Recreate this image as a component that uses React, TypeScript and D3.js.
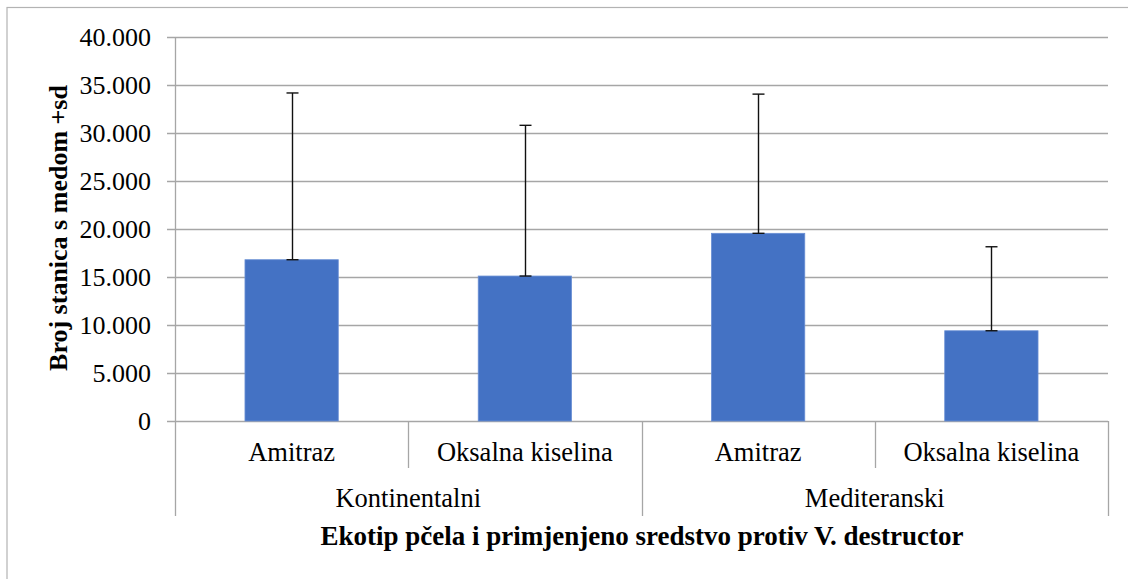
import React, { useEffect, useRef } from "react";
import * as d3 from "d3";

const groups = ["Kontinentalni", "Mediteranski"];
const treatments = ["Amitraz", "Oksalna kiselina"];
const means = [16800, 15100, 19550, 9400];
const sds = [17370, 15700, 14500, 8750];
const yTicks = [0, 5000, 10000, 15000, 20000, 25000, 30000, 35000, 40000];

const W = 1128;
const H = 579;
const FONT = "Liberation Serif, DejaVu Serif, serif";

const App: React.FC = () => {
  const ref = useRef<SVGSVGElement | null>(null);

  useEffect(() => {
    if (!ref.current) return;
    const svg = d3.select(ref.current);
    svg.selectAll("*").remove();

    const left = 175;
    const right = 1108;
    const top = 37;
    const bottom = 421;

    // outer frame
    svg
      .append("rect")
      .attr("x", 7)
      .attr("y", 7.5)
      .attr("width", W)
      .attr("height", H)
      .attr("fill", "white")
      .attr("stroke", "#b3b3b3")
      .attr("stroke-width", 1.2);

    const keys = groups.flatMap((g) => treatments.map((t) => `${g}|${t}`));
    const x = d3.scaleBand<string>().domain(keys).range([left, right]).padding(0);
    const xg = d3.scaleBand<string>().domain(groups).range([left, right]).padding(0);
    const y = d3.scaleLinear().domain([0, 40000]).range([bottom, top]);
    const fmt = (v: number) => (v === 0 ? "0" : d3.format(".3f")(v / 1000));

    // gridlines + ticks
    svg
      .append("g")
      .selectAll("line")
      .data(yTicks)
      .enter()
      .append("line")
      .attr("x1", left - 8)
      .attr("x2", right)
      .attr("y1", (d) => Math.round(y(d)) + 0.5)
      .attr("y2", (d) => Math.round(y(d)) + 0.5)
      .attr("stroke", "#a6a6a6")
      .attr("stroke-width", 1.3);

    svg
      .append("g")
      .selectAll("text")
      .data(yTicks)
      .enter()
      .append("text")
      .attr("x", 151)
      .attr("y", (d) => y(d))
      .attr("dy", "0.33em")
      .attr("text-anchor", "end")
      .attr("font-family", FONT)
      .attr("font-size", 26)
      .text((d) => fmt(d));

    // y axis line
    svg
      .append("line")
      .attr("x1", left + 0.5)
      .attr("x2", left + 0.5)
      .attr("y1", top)
      .attr("y2", 516)
      .attr("stroke", "#a6a6a6")
      .attr("stroke-width", 1.3);

    // category dividers
    const divs = keys.map((k, i) => ({ x: x(k)! + x.bandwidth(), outer: i % 2 === 1 }));
    svg
      .append("g")
      .selectAll("line")
      .data(divs)
      .enter()
      .append("line")
      .attr("x1", (d) => Math.round(d.x) + 0.5)
      .attr("x2", (d) => Math.round(d.x) + 0.5)
      .attr("y1", bottom)
      .attr("y2", (d) => (d.outer ? 516 : 468))
      .attr("stroke", "#a6a6a6")
      .attr("stroke-width", 1.3);

    // bars
    const bw = x.bandwidth() * 0.4;
    svg
      .append("g")
      .selectAll("rect")
      .data(keys)
      .enter()
      .append("rect")
      .attr("x", (k) => x(k)! + (x.bandwidth() - bw) / 2)
      .attr("y", (_, i) => y(means[i]))
      .attr("width", bw)
      .attr("height", (_, i) => bottom - y(means[i]))
      .attr("fill", "#4472c4")
      .attr("stroke", "#6a8fd4")
      .attr("stroke-width", 0.8);

    // error bars (+sd only)
    const eb = svg.append("g").attr("stroke", "#111").attr("stroke-width", 1.4);
    keys.forEach((k, i) => {
      const cx = Math.round(x(k)! + x.bandwidth() / 2) + 0.5;
      const y1 = y(means[i]);
      const y2 = y(means[i] + sds[i]);
      eb.append("line").attr("x1", cx).attr("x2", cx).attr("y1", y1).attr("y2", y2);
      eb.append("line").attr("x1", cx - 6).attr("x2", cx + 6).attr("y1", y2).attr("y2", y2);
      eb.append("line").attr("x1", cx - 6).attr("x2", cx + 6).attr("y1", y1).attr("y2", y1);
    });

    // inner category labels
    svg
      .append("g")
      .selectAll("text")
      .data(keys)
      .enter()
      .append("text")
      .attr("x", (k) => x(k)! + x.bandwidth() / 2)
      .attr("y", 461)
      .attr("text-anchor", "middle")
      .attr("font-family", FONT)
      .attr("font-size", 26.5)
      .text((k) => k.split("|")[1]);

    // outer category labels
    svg
      .append("g")
      .selectAll("text")
      .data(groups)
      .enter()
      .append("text")
      .attr("x", (g) => xg(g)! + xg.bandwidth() / 2)
      .attr("y", 507)
      .attr("text-anchor", "middle")
      .attr("font-family", FONT)
      .attr("font-size", 26.5)
      .text((g) => g);

    // axis titles
    svg
      .append("text")
      .attr("x", 642)
      .attr("y", 545)
      .attr("text-anchor", "middle")
      .attr("font-family", FONT)
      .attr("font-size", 27)
      .attr("font-weight", "bold")
      .text("Ekotip pčela i primjenjeno sredstvo protiv V. destructor");

    svg
      .append("text")
      .attr("transform", `translate(67,228) rotate(-90)`)
      .attr("text-anchor", "middle")
      .attr("font-family", FONT)
      .attr("font-size", 26)
      .attr("font-weight", "bold")
      .text("Broj stanica s medom +sd");
  }, []);

  return (
    <svg
      ref={ref}
      width={W}
      height={H}
      style={{ position: "absolute", left: 0, top: 0, display: "block" }}
    ></svg>
  );
};

export default App;
